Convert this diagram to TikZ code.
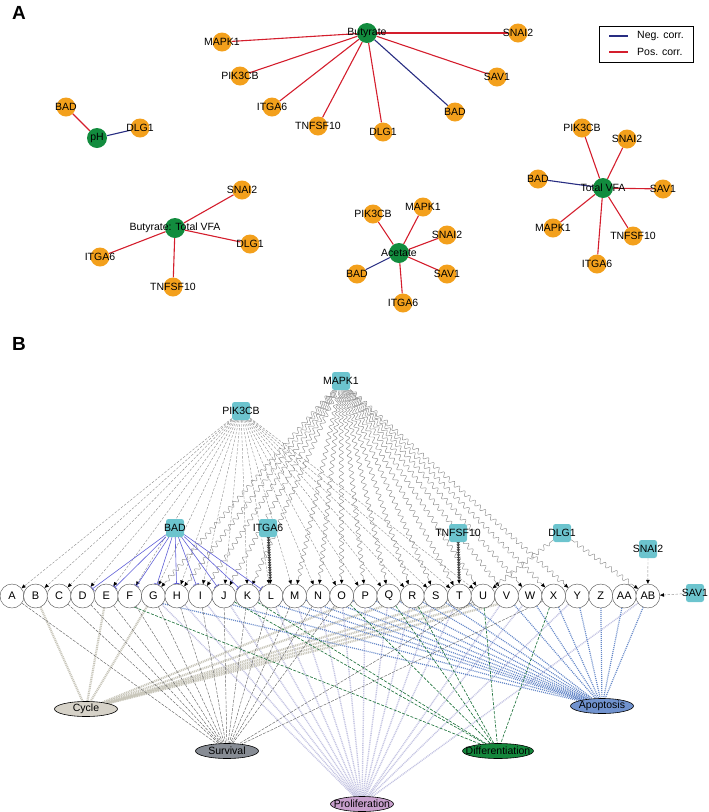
\documentclass[tikz,border=0pt]{standalone}
\usepackage{fontspec}
\setmainfont{Liberation Sans}
\usetikzlibrary{shapes.geometric,arrows.meta,decorations.pathmorphing,decorations.markings,backgrounds}
\definecolor{orgc}{RGB}{243,160,28}
\definecolor{grnc}{RGB}{18,140,62}
\definecolor{posc}{RGB}{212,30,45}
\definecolor{negc}{RGB}{40,45,130}
\definecolor{tealc}{RGB}{108,196,206}
\definecolor{badc}{RGB}{95,95,215}
\definecolor{cycc}{RGB}{214,210,200}
\definecolor{cyce}{RGB}{200,198,186}
\definecolor{survc}{RGB}{135,140,148}
\definecolor{prolc}{RGB}{200,160,205}
\definecolor{prole}{RGB}{196,196,226}
\definecolor{difc}{RGB}{20,135,60}
\definecolor{dife}{RGB}{30,115,60}
\definecolor{apoc}{RGB}{112,146,206}
\definecolor{apoe}{RGB}{100,135,200}
\begin{document}
\begin{tikzpicture}[x=1pt,y=-1pt,
  lbl/.style={inner sep=0pt,font=\fontsize{10.5}{12}\selectfont},
  clbl/.style={inner sep=0pt,font=\fontsize{11}{12}\selectfont},
  onode/.style={circle,fill=orgc,minimum size=19pt,inner sep=0pt},
  gnode/.style={circle,fill=grnc,minimum size=20pt,inner sep=0pt},
  posE/.style={draw=posc,line width=1.1pt},
  negE/.style={draw=negc,line width=1.1pt},
  tbox/.style={rectangle,rounded corners=2.5pt,fill=tealc,minimum size=18pt,inner sep=0pt},
  rnode/.style={circle,draw=black!70,fill=white,minimum size=24pt,inner sep=0pt,line width=0.4pt},
  outc/.style={ellipse,draw=black,line width=0.6pt,minimum width=63pt,minimum height=15pt,inner sep=0pt},
  tip/.style={-{Triangle[length=4pt,width=3.5pt,color=black]}},
  pikE/.style={draw=black!45,line width=0.4pt,dash pattern=on 2.5pt off 1.5pt,tip},
  mapE/.style={draw=black!45,line width=0.45pt,decorate,decoration={snake,amplitude=2.2pt,segment length=7pt,pre length=4pt,post length=6pt},tip},
  badE/.style={draw=badc,line width=0.6pt,-{Bar[width=6pt,line width=0.6pt]}},
  ladE/.style={draw=black!75,line width=0.8pt,tip,decoration={markings,mark=between positions 0.05 and 0.95 step 2.5pt with {\arrow{Triangle[length=2.5pt,width=3.5pt]}}},postaction={decorate}},
  cycE/.style={draw=cyce,line width=2.2pt,dash pattern=on 1pt off 0.8pt},
  surE/.style={draw=black!60,line width=0.45pt,dash pattern=on 3pt off 1.2pt},
  proE/.style={draw=prole,line width=1.4pt,dash pattern=on 1pt off 0.8pt},
  difE/.style={draw=dife,line width=0.65pt,dash pattern=on 3pt off 1.5pt},
  apoE/.style={draw=apoe,line width=1.2pt,dash pattern=on 1pt off 1pt}
]
\useasboundingbox (0,0) rectangle (709,812);

% ---------------- Panel A ----------------
\node[font=\fontsize{19}{22}\bfseries\selectfont,inner sep=0pt] (labA) at (19,13) {A};

% Butyrate group
\node[gnode] (but) at (367,33) {};
\node[onode] (b1) at (222,42) {};
\node[onode] (b2) at (240,76) {};
\node[onode] (b3) at (272,107) {};
\node[onode] (b4) at (318,126) {};
\node[onode] (b5) at (383,132) {};
\node[onode] (b6) at (455,112) {};
\node[onode] (b7) at (497,77) {};
\node[onode] (b8) at (518,33) {};
\node[lbl] at (but) {Butyrate};
\node[lbl] at (b1) {MAPK1};
\node[lbl] at (b2) {PIK3CB};
\node[lbl] at (b3) {ITGA6};
\node[lbl] at (b4) {TNFSF10};
\node[lbl] at (b5) {DLG1};
\node[lbl] at (b6) {BAD};
\node[lbl] at (b7) {SAV1};
\node[lbl] at (b8) {SNAI2};

% pH group
\node[gnode] (ph) at (97,138) {};
\node[onode] (p1) at (66,107) {};
\node[onode] (p2) at (140,128) {};
\node[lbl] at (ph) {pH};
\node[lbl] at (p1) {BAD};
\node[lbl] at (p2) {DLG1};

% Butyrate: Total VFA group
\node[gnode] (btv) at (175,228) {};
\node[onode] (t1) at (242,190) {};
\node[onode] (t2) at (250,244) {};
\node[onode] (t3) at (100,257) {};
\node[onode] (t4) at (173,287) {};
\node[lbl] at (btv) {Butyrate: Total VFA};
\node[lbl] at (t1) {SNAI2};
\node[lbl] at (t2) {DLG1};
\node[lbl] at (t3) {ITGA6};
\node[lbl] at (t4) {TNFSF10};

% Acetate group
\node[gnode] (ace) at (399,253) {};
\node[onode] (a1) at (373,214) {};
\node[onode] (a2) at (423,207) {};
\node[onode] (a3) at (447,235) {};
\node[onode] (a4) at (447,274) {};
\node[onode] (a5) at (357,274) {};
\node[onode] (a6) at (403,303) {};
\node[lbl] at (ace) {Acetate};
\node[lbl] at (a1) {PIK3CB};
\node[lbl] at (a2) {MAPK1};
\node[lbl] at (a3) {SNAI2};
\node[lbl] at (a4) {SAV1};
\node[lbl] at (a5) {BAD};
\node[lbl] at (a6) {ITGA6};

% Total VFA group
\node[gnode] (tv) at (603,188) {};
\node[onode] (v1) at (582,128) {};
\node[onode] (v2) at (627,139) {};
\node[onode] (v3) at (538,179) {};
\node[onode] (v4) at (663,189) {};
\node[onode] (v5) at (553,228) {};
\node[onode] (v6) at (633,236) {};
\node[onode] (v7) at (597,264) {};
\node[lbl] at (tv) {Total VFA};
\node[lbl] at (v1) {PIK3CB};
\node[lbl] at (v2) {SNAI2};
\node[lbl] at (v3) {BAD};
\node[lbl] at (v4) {SAV1};
\node[lbl] at (v5) {MAPK1};
\node[lbl] at (v6) {TNFSF10};
\node[lbl] at (v7) {ITGA6};

% legend
\node[draw,line width=0.8pt,minimum width=94pt,minimum height=36pt,inner sep=0pt] (leg) at (646,44) {};
\coordinate (ln1a) at (609,36); \coordinate (ln1b) at (628,36);
\coordinate (ln2a) at (609,52); \coordinate (ln2b) at (628,52);
\draw[negE] (ln1a) -- (ln1b);
\draw[posE] (ln2a) -- (ln2b);
\node[lbl,anchor=west] (legn) at (637,36) {Neg. corr.};
\node[lbl,anchor=west] (legp) at (637,52) {Pos. corr.};

\begin{pgfonlayer}{background}
  \foreach \t in {b1,b2,b3,b4,b5,b7,b8} \draw[posE] (but) -- (\t);
  \draw[negE] (but) -- (b6);
  \draw[posE] (ph) -- (p1);
  \draw[negE] (ph) -- (p2);
  \foreach \t in {t1,t2,t3,t4} \draw[posE] (btv) -- (\t);
  \foreach \t in {a1,a2,a3,a4,a6} \draw[posE] (ace) -- (\t);
  \draw[negE] (ace) -- (a5);
  \foreach \t in {v1,v2,v4,v5,v6,v7} \draw[posE] (tv) -- (\t);
  \draw[negE] (tv) -- (v3);
\end{pgfonlayer}

% ---------------- Panel B ----------------
\node[font=\fontsize{19}{22}\bfseries\selectfont,inner sep=0pt] (labB) at (19,344) {B};

\node[tbox] (mapk) at (341,381) {};
\node[tbox] (pik) at (241,411) {};
\node[tbox] (bad) at (175,528) {};
\node[tbox] (itga) at (268,528) {};
\node[tbox] (tnf) at (458,533) {};
\node[tbox] (dlg) at (562,533) {};
\node[tbox] (snai) at (648,549) {};
\node[tbox] (sav) at (695,593) {};
\node[lbl] at (mapk) {MAPK1};
\node[lbl] at (pik) {PIK3CB};
\node[lbl] at (bad) {BAD};
\node[lbl] at (itga) {ITGA6};
\node[lbl] at (tnf) {TNFSF10};
\node[lbl] at (dlg) {DLG1};
\node[lbl] at (snai) {SNAI2};
\node[lbl] at (sav) {SAV1};

\foreach \n [count=\i from 0] in {A,B,C,D,E,F,G,H,I,J,K,L,M,N,O,P,Q,R,S,T,U,V,W,X,Y,Z,AA,AB} {
  \node[rnode] (c\n) at ({12+23.55*\i},596) {};
  \node[clbl] at (c\n) {\n};
}

\node[outc,fill=cycc] (cyc) at (86,709) {};
\node[outc,fill=survc] (sur) at (227,751) {};
\node[outc,fill=prolc] (pro) at (362,804) {};
\node[outc,fill=difc,minimum width=71pt] (dif) at (498,751) {};
\node[outc,fill=apoc] (apo) at (602,706) {};
\node[lbl] at (cyc) {Cycle};
\node[lbl] at (sur) {Survival};
\node[lbl] at (pro) {Proliferation};
\node[lbl] at (dif) {Differentiation};
\node[lbl] at (apo) {Apoptosis};

\begin{pgfonlayer}{background}
  % outcome edges
  \foreach \t in {G,H,I,J,K,L,M,N,O,P,Q,R,S,T,V,W,Y,AB} \draw[proE] (c\t) -- (pro);
  \foreach \t in {B,E,G,P,R,T,U,V,W} \draw[cycE] (c\t) -- (cyc);
  \foreach \t in {F,I,K,L,M,N,O,P,Q,R,S,T,V,W,X,Y,Z,AA,AB} \draw[apoE] (c\t) -- (apo);
  \foreach \t in {A,C,D,E,F,G,H,I,J,K,L,M,N,O,U,X} \draw[surE] (c\t) -- (sur);
  \foreach \t in {E,J,K,O,Q,R,U,X} \draw[difE] (c\t) -- (dif);
  % regulator edges
  \foreach \t in {A,B,C,D,E,F,G,H,I,J,K,L,M,N,O,P,Q,R,S,T,U} \draw[pikE] (pik) -- (c\t);
  \foreach \t in {G,H,I,J,K,M,N,O,P,Q,R,S,T,U,V,W,X,Y} \draw[mapE] (mapk) -- (c\t);
  \draw[mapE] (dlg) -- (cU);
  \draw[mapE] (dlg) -- (cAB);
  \foreach \t in {D,E,F,G,H,I,J,K,L} \draw[badE] (bad) -- (c\t);
  \draw[ladE] (itga) -- (cL);
  \draw[ladE] (tnf) -- (cT);
  \draw[pikE] (snai) -- (cAB);
  \draw[pikE] (sav) -- (cAB);
\end{pgfonlayer}
\end{tikzpicture}
\end{document}
